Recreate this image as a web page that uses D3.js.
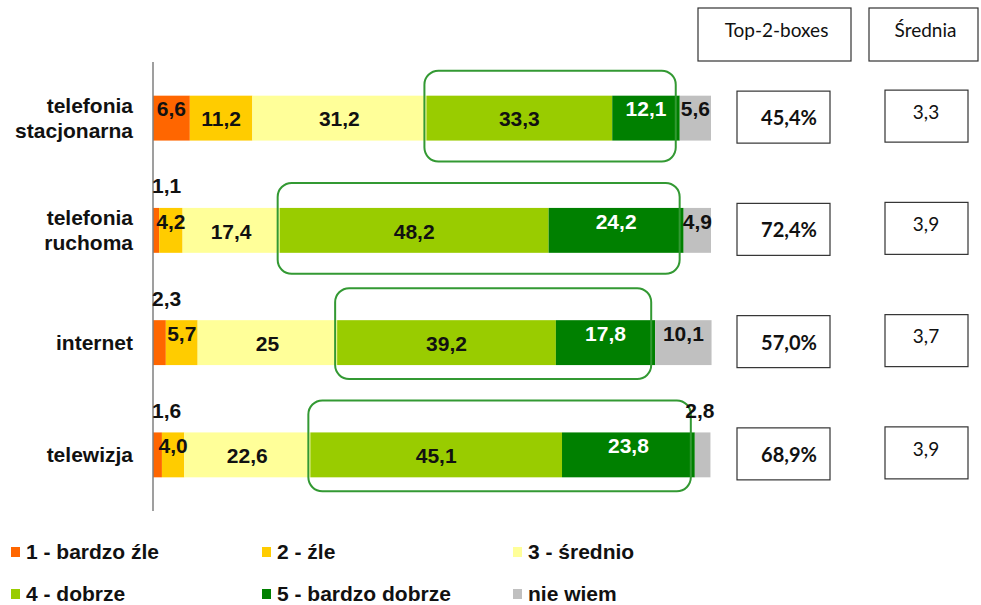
<!DOCTYPE html>
<html>
<head>
<meta charset="utf-8">
<script src="https://cdn.jsdelivr.net/npm/d3@7"></script>
<style>
  body { margin: 0; background: #fff; }
  svg { display: block; }
</style>
</head>
<body>
<div id="chart"></div>
<script>
// ***** Data *****
var categories = [["telefonia", "stacjonarna"], ["telefonia", "ruchoma"], ["internet"], ["telewizja"]];
var seriesNames = ["1 - bardzo źle", "2 - źle", "3 - średnio", "4 - dobrze", "5 - bardzo dobrze", "nie wiem"];
var seriesColors = ["#FF6600", "#FFCC00", "#FFFF99", "#99CC00", "#008000", "#C0C0C0"];

var bardzoZle = [6.6, 1.1, 2.3, 1.6];
var zle = [11.2, 4.2, 5.7, 4.0];
var srednio = [31.2, 17.4, 25, 22.6];
var dobrze = [33.3, 48.2, 39.2, 45.1];
var bardzoDobrze = [12.1, 24.2, 17.8, 23.8];
var nieWiem = [5.6, 4.9, 10.1, 2.8];

var top2 = [45.4, 72.4, 57.0, 68.9];
var srednia = [3.3, 3.9, 3.7, 3.9];

var series = [bardzoZle, zle, srednio, dobrze, bardzoDobrze, nieWiem];

// ***** Chart setup *****
var svgWidth = 981;
var svgHeight = 605;

var svg = d3.select("#chart").append("svg")
    .attr("width", svgWidth)
    .attr("height", svgHeight);

var catKeys = categories.map(function(c) { return c.join(" "); });

var xScale = d3.scaleLinear().domain([0, 100]).range([153, 711]);
var yScale = d3.scaleBand().domain(catKeys).range([62, 511])
    .paddingInner(0.6).paddingOuter(0.3);

// stacked rows
var rows = catKeys.map(function(key, i) {
    var acc = 0;
    var segs = series.map(function(s, j) {
        var seg = { cat: key, row: i, idx: j, v: s[i], x0: acc, x1: acc + s[i] };
        acc += s[i];
        return seg;
    });
    return segs;
});
var segments = [].concat.apply([], rows);

function fmt(v) {
    if (Number.isInteger(v) && v >= 10) return String(v);
    return v.toFixed(1).replace(".", ",");
}

var labelFont = "'Liberation Sans', Arial, sans-serif";
var boxFont = "Lato, 'Open Sans', sans-serif";

// ***** Bars *****
svg.append("g").selectAll("rect")
    .data(segments)
    .enter()
    .append("rect")
    .attr("x", function(d) { return xScale(d.x0); })
    .attr("y", function(d) { return yScale(d.cat); })
    .attr("width", function(d) { return xScale(d.x1) - xScale(d.x0); })
    .attr("height", yScale.bandwidth())
    .attr("fill", function(d) { return seriesColors[d.idx]; });

// green rounded frames round top-2 boxes
svg.append("g").selectAll("rect")
    .data(rows)
    .enter()
    .append("rect")
    .attr("x", function(d) { return xScale(d[3].x0) - 2; })
    .attr("y", function(d, i) { return yScale(d[0].cat) - (i < 2 ? 25 : 32); })
    .attr("width", function(d) { return xScale(d[4].x1) - xScale(d[3].x0) - 2; })
    .attr("height", yScale.bandwidth() + 46)
    .attr("rx", 14)
    .attr("fill", "none")
    .attr("stroke", "#339933")
    .attr("stroke-width", 2);

// axis line
svg.append("line")
    .attr("x1", 153).attr("x2", 153)
    .attr("y1", 62).attr("y2", 511)
    .attr("stroke", "#7F7F7F")
    .attr("stroke-width", 1.5);

// ***** Segment labels *****
svg.append("g").selectAll("text")
    .data(segments)
    .enter()
    .append("text")
    .attr("font-family", labelFont)
    .attr("font-weight", "bold")
    .attr("font-size", "21px")
    .attr("fill", function(d) { return d.idx === 4 ? "#fff" : "#111"; })
    .attr("dy", "0.35em")
    .attr("text-anchor", function(d) {
        if (d.v < 3 && d.idx === 0) return "start";
        if (d.v < 3 && d.idx === 5) return "end";
        return "middle";
    })
    .attr("x", function(d) {
        if (d.v < 3 && d.idx === 0) return xScale(d.x0) - 1;
        if (d.v < 3 && d.idx === 5) return xScale(d.x1) + 4;
        return (xScale(d.x0) + xScale(d.x1)) / 2;
    })
    .attr("y", function(d) {
        var top = yScale(d.cat);
        var mid = top + yScale.bandwidth() / 2;
        if (d.v < 3) return top - 22;
        if (d.v < 8 || d.idx >= 4) return mid - 9;
        return mid + 1;
    })
    .text(function(d) { return fmt(d.v); });

// ***** Category labels *****
var catGroup = svg.append("g");
categories.forEach(function(lines, i) {
    var mid = yScale(catKeys[i]) + yScale.bandwidth() / 2;
    var t = catGroup.append("text")
        .attr("font-family", labelFont)
        .attr("font-weight", "bold")
        .attr("font-size", "21px")
        .attr("fill", "#111")
        .attr("text-anchor", "end");
    lines.forEach(function(line, k) {
        t.append("tspan")
            .attr("x", 133)
            .attr("y", mid + (k - (lines.length - 1) / 2) * 25)
            .attr("dy", "0.35em")
            .text(line);
    });
});

// ***** Right-hand boxes *****
var boxes = svg.append("g")
    .attr("font-family", boxFont);

function headerBox(x, w, label) {
    boxes.append("rect")
        .attr("x", x).attr("y", 8)
        .attr("width", w).attr("height", 53)
        .attr("fill", "#fff").attr("stroke", "#333").attr("stroke-width", 1.2);
    boxes.append("text")
        .attr("x", x + w / 2 + 2).attr("y", 30)
        .attr("dy", "0.35em")
        .attr("text-anchor", "middle")
        .attr("font-size", "19px")
        .attr("fill", "#111")
        .text(label);
}
headerBox(698, 153, "Top-2-boxes");
headerBox(869, 109, "Średnia");

catKeys.forEach(function(key, i) {
    var mid = yScale(key) + yScale.bandwidth() / 2;
    boxes.append("rect")
        .attr("x", 737).attr("y", mid - 27)
        .attr("width", 93).attr("height", 52)
        .attr("fill", "#fff").attr("stroke", "#333").attr("stroke-width", 1.2);
    boxes.append("text")
        .attr("x", 789).attr("y", mid)
        .attr("dy", "0.35em")
        .attr("text-anchor", "middle")
        .attr("font-size", "20px")
        .attr("font-weight", "bold")
        .attr("fill", "#111")
        .text(top2[i].toFixed(1).replace(".", ",") + "%");

    boxes.append("rect")
        .attr("x", 885).attr("y", mid - 28)
        .attr("width", 83).attr("height", 52)
        .attr("fill", "#fff").attr("stroke", "#333").attr("stroke-width", 1.2);
    boxes.append("text")
        .attr("x", 926).attr("y", mid - 6)
        .attr("dy", "0.35em")
        .attr("text-anchor", "middle")
        .attr("font-size", "19px")
        .attr("fill", "#111")
        .text(srednia[i].toFixed(1).replace(".", ","));
});

// ***** Legend *****
var legendX = [11, 262, 513];
var legendY = [552, 594];
var legend = svg.append("g").selectAll("g")
    .data(seriesNames)
    .enter()
    .append("g")
    .attr("transform", function(d, i) {
        return "translate(" + legendX[i % 3] + "," + legendY[Math.floor(i / 3)] + ")";
    });

legend.append("rect")
    .attr("x", 0).attr("y", -5)
    .attr("width", 9).attr("height", 10)
    .attr("fill", function(d, i) { return seriesColors[i]; });

legend.append("text")
    .attr("x", 15)
    .attr("dy", "0.35em")
    .attr("font-family", labelFont)
    .attr("font-weight", "bold")
    .attr("font-size", "21px")
    .attr("fill", "#111")
    .text(function(d) { return d; });
</script>
</body>
</html>
